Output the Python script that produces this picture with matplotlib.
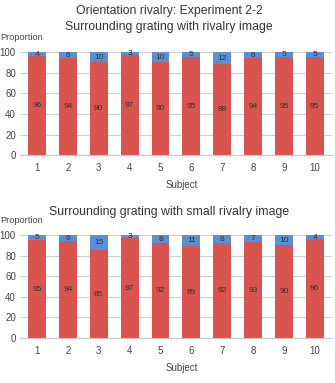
import matplotlib.pyplot as plt
import numpy as np

plt.rcParams['font.family'] = ['Liberation Sans', 'DejaVu Sans']

subjects = [1, 2, 3, 4, 5, 6, 7, 8, 9, 10]
red_top = [96, 94, 90, 97, 90, 95, 88, 94, 95, 95]
blue_top = [4, 6, 10, 3, 10, 5, 12, 6, 5, 5]
red_bottom = [95, 94, 85, 97, 92, 89, 92, 93, 90, 96]
blue_bottom = [5, 6, 15, 3, 8, 11, 8, 7, 10, 4]

red = '#d9534f'
blue = '#5b8fd3'

fig = plt.figure(figsize=(3.35, 3.83), dpi=100)
fig.text(0.505, 0.971, 'Orientation rivalry: Experiment 2-2', ha='center', va='center',
         fontsize=8.8, color='#333333')


def draw(ax, reds, blues, title, title_y):
    x = np.array(subjects)
    ax.bar(x, reds, width=0.58, color=red, zorder=2)
    ax.bar(x, blues, width=0.58, bottom=reds, color=blue, zorder=2)
    for xi, r, b in zip(x, reds, blues):
        ax.text(xi, r / 2, str(r), ha='center', va='center', fontsize=6, color='#333333', zorder=3)
        ax.text(xi, r + b / 2, str(b), ha='center', va='center', fontsize=6, color='#333333', zorder=3)
    ax.set_xlim(0.45, 10.55)
    ax.set_ylim(0, 100)
    ax.set_yticks([0, 20, 40, 60, 80, 100])
    ax.set_xticks(x)
    ax.yaxis.grid(True, color='#d0d0d0', linewidth=0.8, zorder=0)
    for s in ['top', 'right', 'left']:
        ax.spines[s].set_visible(False)
    ax.spines['bottom'].set_color('#c8c8c8')
    ax.tick_params(axis='both', length=0, labelsize=7, colors='#444444', pad=3)
    ax.tick_params(axis='x', pad=6)
    ax.set_xlabel('Subject', fontsize=7, color='#444444', labelpad=5, x=0.52)
    fig.text(0.505, title_y, title, ha='center', va='center', fontsize=8.8, color='#333333')
    ax.text(-0.064, 1.14, 'Proportion', transform=ax.transAxes, ha='left', va='center',
            fontsize=6.6, color='#444444')


ax1 = fig.add_axes([0.06, 0.595, 0.93, 0.269])
draw(ax1, red_top, blue_top, 'Surrounding grating with rivalry image', 0.929)

ax2 = fig.add_axes([0.06, 0.1175, 0.93, 0.269])
draw(ax2, red_bottom, blue_bottom, 'Surrounding grating with small rivalry image', 0.446)

fig.savefig('out.png', dpi=100)
